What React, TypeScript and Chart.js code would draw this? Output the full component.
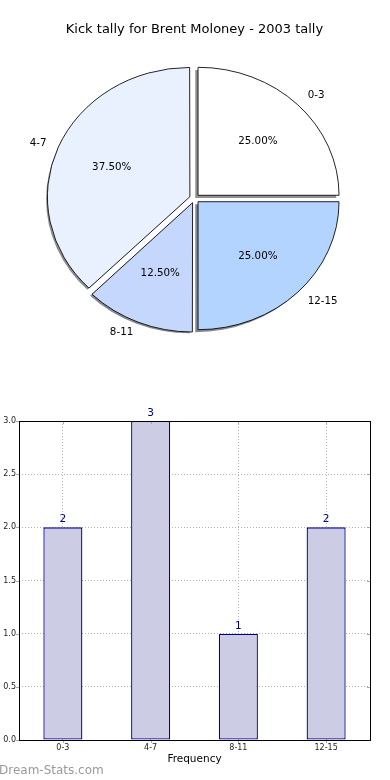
import React, { useEffect, useRef } from "react";
import { Chart, registerables } from "chart.js";

Chart.register(...registerables);

const TITLE = "Kick tally for Brent Moloney - 2003 tally";
const categories = ["0-3", "4-7", "8-11", "12-15"];
const counts = [2, 3, 1, 2];
const sliceColors = ["#ffffff", "#eaf1fe", "#c5d7fd", "#b3d4ff"];
const yTicks = [0, 0.5, 1, 1.5, 2, 2.5, 3];
const xAxisTitle = "Frequency";
const watermark = "Dream-Stats.com";

const FONT = "'DejaVu Sans', sans-serif";
const PIE_RX = 141;
const PIE_RY = 128;
const K = PIE_RY / PIE_RX;

// pie drawn clockwise from 3 o'clock, so reverse order gives matplotlib's counter-clockwise layout
const pieLabels = [...categories].reverse();
const pieValues = [...counts].reverse();
const pieColors = [...sliceColors].reverse();

function shadowColor(hex: string) {
  const r = parseInt(hex.slice(1, 3), 16);
  const g = parseInt(hex.slice(3, 5), 16);
  const b = parseInt(hex.slice(5, 7), 16);
  return `rgba(${Math.round(r * 0.3)},${Math.round(g * 0.3)},${Math.round(b * 0.3)},0.62)`;
}

const pieExtras = {
  id: "pieExtras",
  beforeDatasetsDraw(chart: any) {
    const meta = chart.getDatasetMeta(0);
    const arc0 = meta.data[0];
    const ctx = chart.ctx;
    // shadows (drawn from each arc element's geometry, offset left/down)
    ctx.save();
    ctx.translate(-2.8, 2.6);
    ctx.translate(arc0.x, arc0.y);
    ctx.scale(1, K);
    ctx.translate(-arc0.x, -arc0.y);
    meta.data.forEach((arc: any, i: number) => {
      const { x, y, startAngle, endAngle, outerRadius } = arc;
      const mid = (startAngle + endAngle) / 2;
      const ex = (arc.options.offset || 0) / 4;
      const cx = x + Math.cos(mid) * ex;
      const cy = y + Math.sin(mid) * ex;
      ctx.beginPath();
      ctx.moveTo(cx, cy);
      ctx.arc(cx, cy, outerRadius, startAngle, endAngle);
      ctx.closePath();
      ctx.fillStyle = shadowColor(pieColors[i]);
      ctx.fill();
    });
    ctx.restore();
    // ellipse transform for the slices
    ctx.save();
    ctx.translate(arc0.x, arc0.y);
    ctx.scale(1, K);
    ctx.translate(-arc0.x, -arc0.y);
  },
  afterDatasetsDraw(chart: any) {
    const ctx = chart.ctx;
    ctx.restore();
    const meta = chart.getDatasetMeta(0);
    const total = pieValues.reduce((a, b) => a + b, 0);
    ctx.save();
    ctx.fillStyle = "#000";
    ctx.font = `10.3px ${FONT}`;
    ctx.textBaseline = "middle";
    meta.data.forEach((arc: any, i: number) => {
      const { x, y, startAngle, endAngle, outerRadius } = arc;
      const mid = (startAngle + endAngle) / 2;
      const ex = (arc.options.offset || 0) / 4;
      const cx = x + Math.cos(mid) * ex;
      const cy = y + Math.sin(mid) * ex * K;
      const lx = cx + Math.cos(mid) * outerRadius * 1.1;
      const ly = cy + Math.sin(mid) * outerRadius * K * 1.1;
      ctx.textAlign = Math.cos(mid) >= 0 ? "left" : "right";
      ctx.fillText(pieLabels[i], lx, ly);
      const px = cx + Math.cos(mid) * outerRadius * 0.6;
      const py = cy + Math.sin(mid) * outerRadius * K * 0.6;
      ctx.textAlign = "center";
      ctx.fillText(((pieValues[i] / total) * 100).toFixed(2) + "%", px, py);
    });
    ctx.restore();
  },
};

const barExtras = {
  id: "barExtras",
  afterDraw(chart: any) {
    const { ctx, chartArea: a, scales } = chart;
    ctx.save();
    ctx.setLineDash([]);
    // small gray tick marks like the original
    ctx.strokeStyle = "#a8a8a8";
    ctx.lineWidth = 1;
    ctx.beginPath();
    yTicks.forEach((v) => {
      const py = Math.round(scales.y.getPixelForValue(v)) + 0.5;
      ctx.moveTo(a.left - 3, py);
      ctx.lineTo(a.left, py);
      ctx.moveTo(a.right - 3, py);
      ctx.lineTo(a.right, py);
    });
    categories.forEach((_, i) => {
      const px = Math.round(scales.x.getPixelForTick(i)) + 0.5;
      ctx.moveTo(px, a.top);
      ctx.lineTo(px, a.top + 3);
      ctx.moveTo(px, a.bottom);
      ctx.lineTo(px, a.bottom + 3);
    });
    ctx.stroke();
    // frame
    ctx.strokeStyle = "#000";
    ctx.lineWidth = 1;
    ctx.strokeRect(Math.round(a.left) + 0.5, Math.round(a.top) + 0.5, Math.round(a.right - a.left), Math.round(a.bottom - a.top));
    // value labels
    const meta = chart.getDatasetMeta(0);
    ctx.fillStyle = "#000080";
    ctx.font = `10.5px ${FONT}`;
    ctx.textAlign = "center";
    ctx.textBaseline = "alphabetic";
    meta.data.forEach((bar: any, i: number) => {
      ctx.fillText(String(counts[i]), bar.x, bar.y - 5);
    });
    ctx.restore();
  },
};

export default function App() {
  const pieRef = useRef<HTMLCanvasElement>(null);
  const barRef = useRef<HTMLCanvasElement>(null);

  useEffect(() => {
    const pie = new Chart(pieRef.current as HTMLCanvasElement, {
      type: "pie",
      data: {
        labels: pieLabels,
        datasets: [
          {
            data: pieValues,
            backgroundColor: pieColors,
            borderColor: "#000",
            borderWidth: 0.9,
            offset: 20,
            clip: false as any,
          },
        ],
      },
      options: {
        animation: false,
        responsive: false,
        rotation: 90,
        radius: PIE_RX,
        layout: { padding: { top: 0, left: 0, right: 1, bottom: 30.6 } },
        plugins: {
          legend: { display: false },
          tooltip: { enabled: false },
          title: {
            display: true,
            text: TITLE,
            color: "#000",
            font: { family: FONT, size: 13, weight: "normal" as any },
            padding: { top: 22, bottom: 10 },
          },
        },
      } as any,
      plugins: [pieExtras],
    });

    const gridCommon = {
      color: "#b4b4b4",
      lineWidth: 1,
      drawTicks: false,
    };

    const bar = new Chart(barRef.current as HTMLCanvasElement, {
      type: "bar",
      data: {
        labels: categories,
        datasets: [
          {
            data: counts,
            backgroundColor: "#ccccE5",
            borderColor: "#00008b",
            borderWidth: 1.3,
            borderSkipped: false,
            barPercentage: 0.445,
            categoryPercentage: 1,
          },
        ],
      },
      options: {
        animation: false,
        responsive: false,
        layout: { padding: { top: 21, right: 20, left: 0, bottom: 0 } },
        plugins: {
          legend: { display: false },
          tooltip: { enabled: false },
          title: { display: false },
        },
        scales: {
          x: {
            offset: true,
            z: 1,
            grid: { ...gridCommon, offset: false },
            border: { display: false, dash: [1, 2] },
            ticks: { color: "#222", font: { family: FONT, size: 8 }, padding: 3 },
            title: {
              display: true,
              text: xAxisTitle,
              color: "#000",
              font: { family: FONT, size: 10.5 },
              padding: { top: 2, bottom: 14 },
            },
            afterFit: (s: any) => {
              s.height = 40;
            },
          },
          y: {
            min: 0,
            max: 3,
            z: 1,
            grid: { ...gridCommon },
            border: { display: false, dash: [1, 2] },
            ticks: {
              color: "#222",
              font: { family: FONT, size: 8 },
              padding: 3,
              callback: (v: any) => Number(v).toFixed(1),
            },
            afterBuildTicks: (s: any) => {
              s.ticks = yTicks.map((v) => ({ value: v }));
            },
            afterFit: (s: any) => {
              s.width = 19;
            },
          },
        },
      } as any,
      plugins: [barExtras],
    });

    return () => {
      pie.destroy();
      bar.destroy();
    };
  }, []);

  return (
    <div style={{ position: "absolute", left: 0, top: 0, width: 390, height: 780, background: "#fff", overflow: "hidden" }}>
      <canvas ref={pieRef} width={390} height={380} style={{ position: "absolute", left: 0, top: 0, display: "block" }} />
      <canvas ref={barRef} width={390} height={380} style={{ position: "absolute", left: 0, top: 400, display: "block" }} />
      <div
        style={{
          position: "absolute",
          left: -1,
          top: 763,
          fontFamily: FONT,
          fontSize: 12,
          lineHeight: "14px",
          color: "#9a9a9a",
          whiteSpace: "nowrap",
        }}
      >
        {watermark}
      </div>
    </div>
  );
}
